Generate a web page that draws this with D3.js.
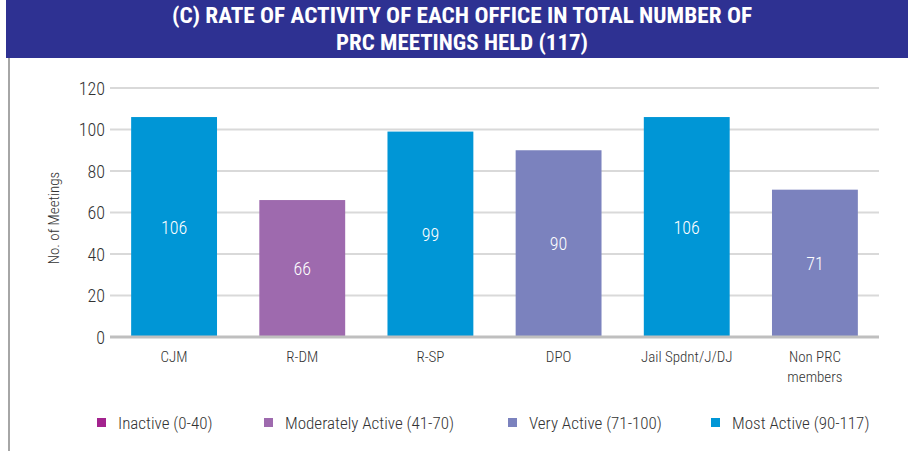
<!DOCTYPE html>
<html>
<head>
<meta charset="UTF-8">
<style>
  * { margin: 0; padding: 0; }
  body { background: #fff; width: 908px; height: 451px; overflow: hidden; }
  svg text { font-family: "Roboto Condensed", "Liberation Sans Narrow", Roboto, sans-serif; font-weight: 300; }
</style>
</head>
<body>
<svg id="chart" width="908" height="451"></svg>
<script src="https://d3js.org/d3.v7.min.js"></script>
<script>
const categories = ["CJM", "R-DM", "R-SP", "DPO", "Jail Spdnt/J/DJ", "Non PRC\nmembers"];
const meetings = [106, 66, 99, 90, 106, 71];
const activity = ["most", "moderate", "most", "very", "most", "very"];
const yTicks = [0, 20, 40, 60, 80, 100, 120];
const legendKeys = ["inactive", "moderate", "very", "most"];
const legendLabels = ["Inactive (0-40)", "Moderately Active (41-70)", "Very Active (71-100)", "Most Active (90-117)"];
const titleLines = ["(C) RATE OF ACTIVITY OF EACH OFFICE IN TOTAL NUMBER OF", "PRC MEETINGS HELD (117)"];

const colors = { inactive: "#a3238e", moderate: "#9e6aae", very: "#7b82be", most: "#0096d6" };

const svg = d3.select("#chart");

// bandeau titre
svg.append("rect").attr("x", 6).attr("y", 0).attr("width", 902).attr("height", 58).attr("fill", "#2e3192");
svg.append("rect").attr("x", 8).attr("y", 58).attr("width", 2).attr("height", 393).attr("fill", "#a6a6a6");
const titleWidths = [580, 252];
svg.selectAll(".title").data(titleLines).join("text")
  .attr("x", 462).attr("y", (d, i) => 23 + i * 27)
  .attr("text-anchor", "middle")
  .attr("fill", "#fff").attr("font-size", 22)
  .style("font-weight", "bold")
  .attr("textLength", (d, i) => titleWidths[i]).attr("lengthAdjust", "spacingAndGlyphs")
  .text(d => d);

const x = d3.scaleBand().domain(categories).range([110, 879]).paddingInner(0.33).paddingOuter(0.165);
const y = d3.scaleLinear().domain([0, 120]).range([337, 88]);

// grille
svg.append("g").selectAll("line").data(yTicks.filter(t => t > 0)).join("line")
  .attr("x1", 110).attr("x2", 879)
  .attr("y1", d => y(d)).attr("y2", d => y(d))
  .attr("stroke", "#d9d9d9").attr("stroke-width", 2);

svg.append("g").selectAll("text").data(yTicks).join("text")
  .attr("x", 105).attr("y", d => y(d) + 6.5)
  .attr("text-anchor", "end").attr("font-size", 18).attr("fill", "#333")
  .text(d => d);

svg.append("text")
  .attr("transform", "translate(59,218) rotate(-90)")
  .attr("text-anchor", "middle").attr("font-size", 15).attr("fill", "#333")
  .text("No. of Meetings");

// barres
svg.append("g").selectAll("rect").data(categories).join("rect")
  .attr("x", d => x(d)).attr("width", x.bandwidth())
  .attr("y", (d, i) => y(meetings[i])).attr("height", (d, i) => y(0) - y(meetings[i]))
  .attr("fill", (d, i) => colors[activity[i]]);

svg.append("g").selectAll("text").data(categories).join("text")
  .attr("x", d => x(d) + x.bandwidth() / 2)
  .attr("y", (d, i) => (y(meetings[i]) + y(0)) / 2 + 6.5)
  .attr("text-anchor", "middle").attr("font-size", 18).attr("fill", "#fff")
  .text((d, i) => meetings[i]);

// ligne zéro
svg.append("line").attr("x1", 110).attr("x2", 879).attr("y1", y(0)).attr("y2", y(0))
  .attr("stroke", "#bfbfbf").attr("stroke-width", 3);

// étiquettes catégories
const catLabel = svg.append("g").selectAll("text").data(categories).join("text")
  .attr("x", d => x(d) + x.bandwidth() / 2).attr("y", 362)
  .attr("text-anchor", "middle").attr("font-size", 15).attr("fill", "#333");
catLabel.selectAll("tspan").data(d => d.split("\n")).join("tspan")
  .attr("x", function() { return d3.select(this.parentNode).attr("x"); })
  .attr("dy", (d, i) => i === 0 ? 0 : 20)
  .text(d => d);

// légende
const legendX = [97, 264, 508, 711];
const legend = svg.append("g").selectAll("g").data(legendKeys).join("g")
  .attr("transform", (d, i) => `translate(${legendX[i]},418)`);
legend.append("rect").attr("width", 9).attr("height", 9).attr("fill", d => colors[d]);
legend.append("text").attr("x", 21).attr("y", 11).attr("font-size", 17).attr("fill", "#333")
  .text((d, i) => legendLabels[i]);
</script>
</body>
</html>
